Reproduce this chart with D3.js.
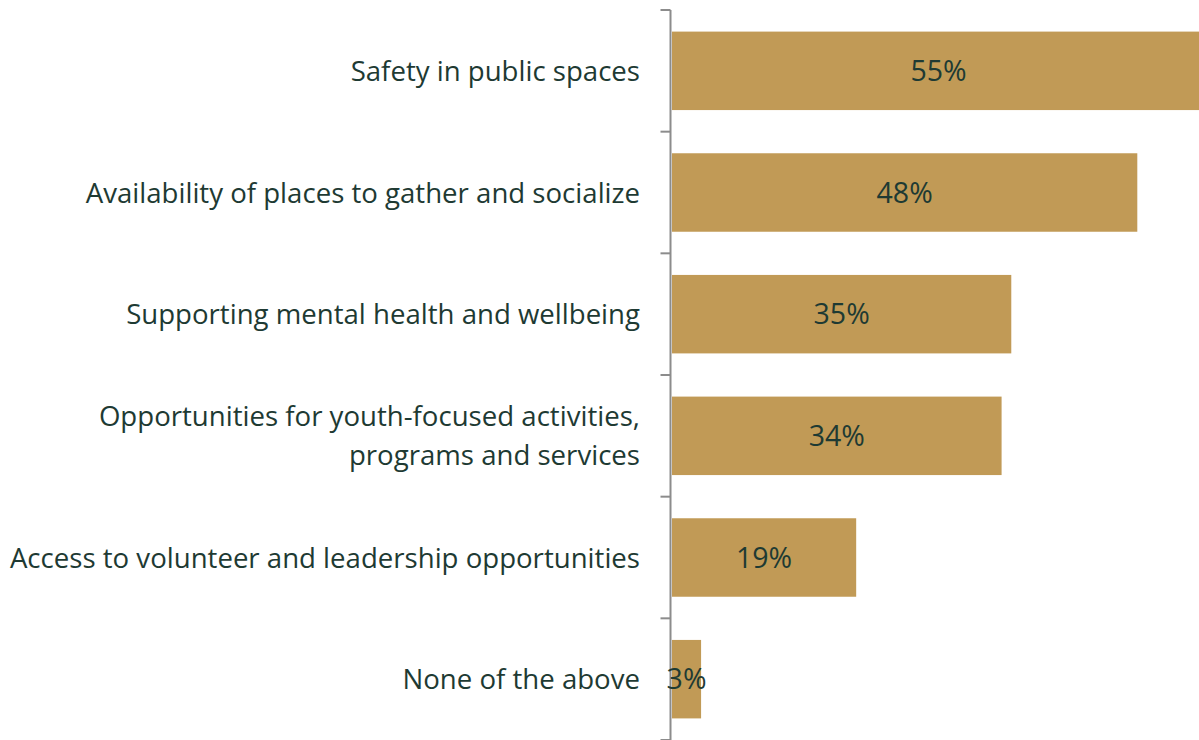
<!DOCTYPE html>
<html>
<head>
<meta charset="utf-8">
<script src="https://cdn.jsdelivr.net/npm/d3@7"></script>
<style>
  html, body { margin: 0; padding: 0; background: #ffffff; overflow: hidden; }
  svg { display: block; }
  text { font-family: "Open Sans", "Noto Sans", sans-serif; fill: #1e3a33; }
</style>
</head>
<body>
<svg id="chart" width="1199" height="740"></svg>
<script>
// Share of respondents choosing each priority
const categories = [
  "Safety in public spaces",
  "Availability of places to gather and socialize",
  "Supporting mental health and wellbeing",
  "Opportunities for youth-focused activities,\nprograms and services",
  "Access to volunteer and leadership opportunities",
  "None of the above"
];
const values = [55, 48, 35, 34, 19, 3];
const valueLabels = ["55%", "48%", "35%", "34%", "19%", "3%"];

const svg = d3.select("#chart");
const axisX = 670.5;
const plotTop = 10, plotBottom = 740;

const y = d3.scaleBand()
  .domain(categories)
  .range([plotTop, plotBottom])
  .paddingInner(0.355)
  .paddingOuter(0.1775);

// bars start just right of the axis line; the largest bar runs past the right edge
const x = d3.scaleLinear().domain([0, 48]).range([672, 1137.3]);

const data = categories.map((c, i) => ({ cat: c, value: values[i], label: valueLabels[i] }));

svg.append("g")
  .selectAll("rect")
  .data(data)
  .join("rect")
  .attr("x", x(0))
  .attr("y", d => y(d.cat))
  .attr("width", d => x(d.value) - x(0))
  .attr("height", y.bandwidth())
  .attr("fill", "#c19a56");

// category axis with ticks at band boundaries
const axis = svg.append("g");
axis.append("line")
  .attr("x1", axisX).attr("x2", axisX)
  .attr("y1", plotTop).attr("y2", plotBottom)
  .attr("stroke", "#8c8c8c").attr("stroke-width", 2);
const boundaries = categories.map(c => y(c) - y.step() * y.paddingInner() / 2).concat([plotBottom]);
axis.selectAll("line.tick")
  .data(boundaries)
  .join("line")
  .attr("class", "tick")
  .attr("x1", axisX - 10).attr("x2", axisX)
  .attr("y1", d => d).attr("y2", d => d)
  .attr("stroke", "#8c8c8c").attr("stroke-width", 2);

// category labels, right aligned next to the axis
const labels = svg.append("g")
  .selectAll("text")
  .data(data)
  .join("text")
  .attr("x", 640)
  .attr("y", d => y(d.cat) + y.bandwidth() / 2)
  .attr("text-anchor", "end")
  .attr("font-size", 27.6);
labels.each(function(d) {
  const lines = d.cat.split("\n");
  const t = d3.select(this);
  const lh = 39;
  lines.forEach((ln, i) => {
    t.append("tspan")
      .attr("x", 640)
      .attr("dy", i === 0 ? (-(lines.length - 1) * lh / 2 + 10) : lh)
      .text(ln);
  });
});

// value labels centred in each bar
svg.append("g")
  .selectAll("text")
  .data(data)
  .join("text")
  .attr("x", d => (x(0) + x(d.value)) / 2)
  .attr("y", d => y(d.cat) + y.bandwidth() / 2 + 10)
  .attr("text-anchor", "middle")
  .attr("font-size", 28.5)
  .text(d => d.label);
</script>
</body>
</html>
